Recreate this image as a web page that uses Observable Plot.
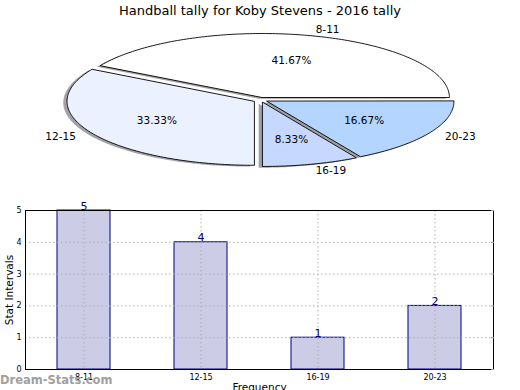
<!DOCTYPE html>
<html><head><meta charset="utf-8">
<script src="https://cdn.jsdelivr.net/npm/d3@7"></script>
<script src="https://cdn.jsdelivr.net/npm/@observablehq/plot@0.6"></script>
<style>
body{margin:0;background:#fff;font-family:"DejaVu Sans",sans-serif;}
#wrap{position:relative;width:520px;height:390px;overflow:hidden;background:#fff;}
#title{position:absolute;top:3px;left:0;width:520px;text-align:center;font-size:13px;color:#000;}
#pie{position:absolute;top:20px;left:0;}
#bar{position:absolute;top:195px;left:0;}
#wm{position:absolute;left:0;top:373px;color:#a0a0a0;font-weight:bold;font-size:11.5px;white-space:nowrap;}
svg{font-family:"DejaVu Sans",sans-serif;overflow:visible;}
</style></head><body>
<div id="wrap"><div id="title"></div><div id="pie"></div><div id="bar"></div><div id="wm"></div></div>
<script>
const titleText = "Handball tally for Koby Stevens - 2016 tally";
const categories = ["8-11", "12-15", "16-19", "20-23"];
const counts = [5, 4, 1, 2];
const sliceColors = ["#ffffff", "#ebf1ff", "#c6d8ff", "#b3d5ff"];
const yTicks = [0, 1, 2, 3, 4, 5];
const xLabel = "Frequency";
const yLabel = "Stat Intervals";
const watermark = "Dream-Stats.com";

document.getElementById("title").textContent = titleText;
document.getElementById("wm").textContent = watermark;

// pie wedges
const total = d3.sum(counts);
let acc = 0;
const wedges = categories.map((c, i) => {
  const a0 = acc / total * 360; acc += counts[i]; const a1 = acc / total * 360;
  return {c, i, a0, a1, mid: (a0 + a1) / 2, pct: counts[i] / total * 100, color: sliceColors[i]};
});
const explode = 0.04;
function wedgePts(w, ox, oy, color) {
  const m = w.mid * Math.PI / 180;
  const cx = explode * Math.cos(m) + ox, cy = explode * Math.sin(m) + oy;
  const out = [{x: cx, y: cy, c: w.c, color}];
  for (let a = w.a0; a <= w.a1 + 1e-9; a += 1) {
    const r = a * Math.PI / 180;
    out.push({x: cx + Math.cos(r), y: cy + Math.sin(r), c: w.c, color});
  }
  return out;
}
const shadowPts = wedges.flatMap(w => {
  const col = d3.rgb(w.color); const s = d3.rgb(col.r * 0.3, col.g * 0.3, col.b * 0.3).formatHex();
  return wedgePts(w, -0.02, -0.02, s);
});
const slicePts = wedges.flatMap(w => wedgePts(w, 0, 0, w.color));
const labels = wedges.map(w => {
  const m = w.mid * Math.PI / 180;
  return {x: (1.1 + explode) * Math.cos(m), y: (1.1 + explode) * Math.sin(m), text: w.c};
});
const pcts = wedges.map(w => {
  const m = w.mid * Math.PI / 180;
  return {x: (0.6 + explode) * Math.cos(m), y: (0.6 + explode) * Math.sin(m), text: w.pct.toFixed(2) + "%"};
});

const pie = Plot.plot({
  width: 520, height: 170, margin: 0,
  x: {domain: [-1.3904, 1.3904], axis: null},
  y: {domain: [-1.414, 1.242], axis: null},
  color: {type: "identity"},
  marks: [
    Plot.line(shadowPts, {x: "x", y: "y", z: "c", fill: "color", fillOpacity: 0.5, stroke: "none", curve: "linear-closed"}),
    Plot.line(slicePts, {x: "x", y: "y", z: "c", fill: "color", stroke: "black", strokeWidth: 0.9, curve: "linear-closed"}),
    Plot.text(labels.filter(d => d.x >= 0), {x: "x", y: "y", text: "text", textAnchor: "start", fontSize: 10.5, fill: "black"}),
    Plot.text(labels.filter(d => d.x < 0), {x: "x", y: "y", text: "text", textAnchor: "end", fontSize: 10.5, fill: "black"}),
    Plot.text(pcts, {x: "x", y: "y", text: "text", fontSize: 10.5, fill: "black"})
  ]
});
document.getElementById("pie").appendChild(pie);

const barData = categories.map((c, i) => ({c, v: counts[i]}));
const gridStyle = {stroke: "#b0b0b0", strokeOpacity: 1, strokeDasharray: "1.5,2.5", strokeWidth: 1};
const bar = Plot.plot({
  width: 520, height: 195, marginTop: 15, marginBottom: 21, marginLeft: 25, marginRight: 27,
  x: {domain: categories, paddingInner: 0.55, paddingOuter: 0.275, label: null},
  y: {domain: [0, 5], label: null},
  marks: [
    Plot.barY(barData, {x: "c", y: "v", fill: "#ccccE6", stroke: "#000080", strokeWidth: 1}),
    Plot.gridY(yTicks, gridStyle),
    Plot.gridX(categories, gridStyle),
    Plot.frame({stroke: "black", strokeWidth: 1}),
    Plot.axisY(yTicks, {tickSize: 0, tickPadding: 4, fontSize: 8, tickFormat: d => String(d), label: null}),
    Plot.axisY(yTicks, {anchor: "right", tickSize: 3, tickPadding: 0, stroke: "#999", tickFormat: () => "", label: null, dx: -3}),
    Plot.axisX({tickSize: 0, tickPadding: 5, fontSize: 8, label: null}),
    Plot.text(barData, {x: "c", y: "v", text: d => String(d.v), lineAnchor: "bottom", dy: -1, fill: "#000080", fontSize: 11}),
    Plot.text([yLabel], {frameAnchor: "left", textAnchor: "middle", dx: -16, rotate: -90, fontSize: 10.5, fill: "black"}),
    Plot.text([xLabel], {frameAnchor: "bottom", textAnchor: "middle", dy: 14, lineAnchor: "top", fontSize: 10.5, fill: "black"})
  ]
});
document.getElementById("bar").appendChild(bar);
</script>
</body></html>
